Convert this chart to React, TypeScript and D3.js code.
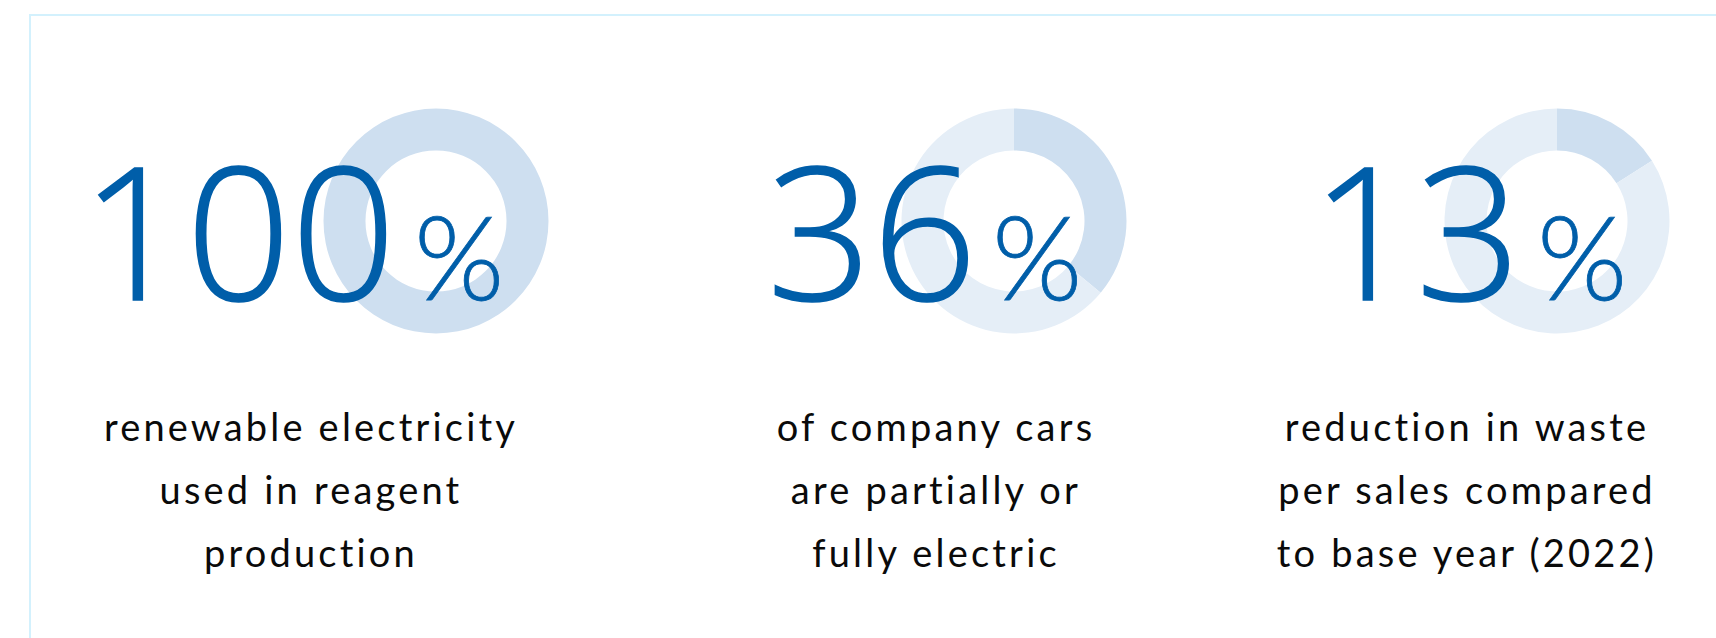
import React from "react";
import * as d3 from "d3";

// ---- data ----
const metricValues = ["100", "36", "13"];
const arcShares = [100, 36, 16];
const descriptionLines = [
  ["renewable electricity", "used in reagent", "production"],
  ["of company cars", "are partially or", "fully electric"],
  ["reduction in waste", "per sales compared", "to base year (2022)"],
];

// ---- layout ----
const W = 1716;
const H = 638;
const donutCx = [436, 1014, 1557];
const donutCy = 221;
const textCx = [311, 936, 1467];
const digitsRight = [396, 977, 1521];
const pctLeft = [414, 992, 1537];
const numBaseline = 300;
const lineBaselines = [441, 504, 567];

const BLUE = "#005ea9";
const FILLED = "#cedff0";
const REST = "#e5eef7";

export default function App() {
  const pie = d3
    .pie<number>()
    .sort(null)
    .value((d) => d);
  const arc = d3
    .arc<d3.PieArcDatum<number>>()
    .innerRadius(70.5)
    .outerRadius(112.5);

  return (
    <svg
      width={W}
      height={H}
      style={{ position: "absolute", left: 0, top: 0, background: "#fff" }}
    >
      <rect x={30} y={15} width={W} height={H} fill="none" stroke="#d3f1fd" strokeWidth={2} />
      {metricValues.map((v, i) => {
        const slices = pie([arcShares[i], 100 - arcShares[i]]);
        return (
          <g key={i}>
            <g transform={`translate(${donutCx[i]},${donutCy})`}>
              {slices.map((s, j) => (
                <path key={j} d={arc(s) || ""} fill={j === 0 ? FILLED : REST} />
              ))}
            </g>
            <text
              x={digitsRight[i]}
              y={numBaseline}
              textAnchor="end"
              fill={BLUE}
              stroke={BLUE}
              strokeWidth={1.6}
              style={{ fontFamily: "'Open Sans'", fontSize: 184, fontWeight: 300 }}
            >
              {v}
            </text>
            <text
              x={pctLeft[i]}
              y={numBaseline}
              textAnchor="start"
              fill={BLUE}
              stroke={BLUE}
              strokeWidth={0.8}
              style={{ fontFamily: "Lato", fontSize: 116, fontWeight: 300 }}
            >
              %
            </text>
            {descriptionLines[i].map((line, k) => (
              <text
                key={k}
                x={textCx[i]}
                y={lineBaselines[k]}
                textAnchor="middle"
                fill="#0a0a0a"
                style={{ fontFamily: "Lato", fontSize: 38, letterSpacing: 3.2 }}
              >
                {line}
              </text>
            ))}
          </g>
        );
      })}
    </svg>
  );
}
